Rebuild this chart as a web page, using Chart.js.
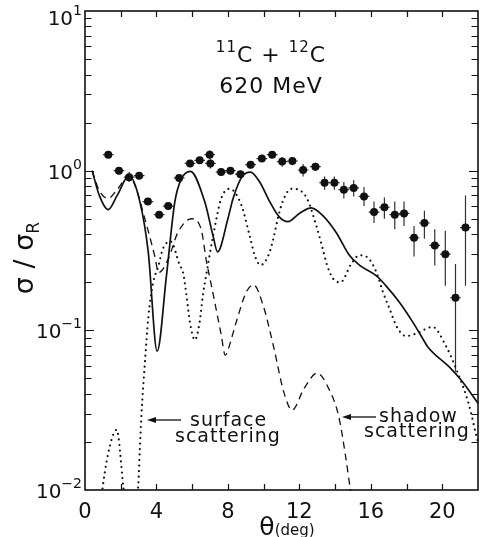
<!DOCTYPE html>
<html><head><meta charset="utf-8">
<script src="https://cdn.jsdelivr.net/npm/chart.js@4.4.0/dist/chart.umd.min.js"></script>
<style>html,body{margin:0;padding:0;background:#fff}#wrap{width:482px;height:537px;position:relative}</style>
</head><body><div id="wrap"><canvas id="c" width="482" height="537"></canvas></div>
<script>
// ---- data ----
const xTickLabels = [0, 4, 8, 12, 16, 20];
const yTickExps = [1, 0, -1, -2];

const ptX  = [1.30,1.90,2.47,3.03,3.52,4.15,4.66,5.27,5.88,6.42,6.98,7.02,7.62,8.14,8.70,9.27,9.90,10.48,11.04,11.61,12.21,12.90,13.41,13.96,14.49,15.04,15.62,16.18,16.76,17.34,17.86,18.42,19.00,19.58,20.17,20.74,21.30];
const ptY  = [1.26,1.00,0.91,0.93,0.64,0.53,0.60,0.90,1.11,1.16,1.26,1.11,0.98,1.00,0.95,1.09,1.19,1.26,1.14,1.15,1.01,1.06,0.84,0.84,0.76,0.78,0.69,0.55,0.59,0.53,0.54,0.38,0.47,0.34,0.30,0.16,0.44];
const ptHi = [1.32,1.05,0.98,0.97,0.67,0.555,0.63,0.94,1.16,1.21,1.34,1.18,1.04,1.05,1.00,1.15,1.24,1.31,1.22,1.22,1.10,1.12,0.92,0.92,0.85,0.87,0.79,0.64,0.68,0.64,0.64,0.45,0.56,0.43,0.42,0.26,0.70];
const ptLo = [1.20,0.95,0.85,0.89,0.61,0.505,0.57,0.86,1.06,1.11,1.19,1.03,0.93,0.95,0.90,1.03,1.14,1.21,1.06,1.08,0.92,1.00,0.76,0.76,0.67,0.69,0.60,0.47,0.50,0.43,0.45,0.29,0.375,0.255,0.19,0.055,0.19];
const xErr = 0.3;

const fullX = [0.4,0.8,1.3,1.8,2.47,3.07,3.54,4.04,4.56,5.03,5.4,5.9,6.7,7.17,7.42,8.0,8.29,8.84,9.26,9.78,10.34,10.9,11.36,12.0,12.66,13.3,14.06,14.8,15.36,16.3,16.85,17.6,18.34,18.9,19.18,20.39,21.04,22.0];
const fullY = [1.0,0.70,0.57,0.70,0.93,0.64,0.31,0.074,0.22,0.64,0.89,0.99,0.64,0.39,0.31,0.50,0.67,0.935,0.98,0.85,0.64,0.51,0.48,0.54,0.585,0.525,0.41,0.295,0.256,0.22,0.19,0.15,0.113,0.089,0.079,0.059,0.049,0.035];

const shadowX = [0.4,0.8,1.3,1.8,2.47,2.9,3.35,3.91,4.12,4.66,5.2,5.96,6.5,6.8,7.0,7.26,7.63,7.85,8.2,8.47,9.03,9.43,10.0,10.58,11.13,11.6,12.25,13.0,13.65,14.2,14.58,14.86,15.2];
const shadowY = [1.0,0.75,0.67,0.76,0.93,0.75,0.50,0.29,0.23,0.28,0.41,0.50,0.43,0.27,0.21,0.151,0.093,0.07,0.089,0.113,0.174,0.193,0.14,0.077,0.041,0.0316,0.043,0.054,0.043,0.029,0.0165,0.01,0.006];

const surfX = [0.7,1.0,1.4,1.77,2.14,2.5,2.98,3.07,3.16,3.35,3.54,3.82,4.1,4.37,4.8,5.3,5.49,5.68,5.87,6.15,6.42,6.6,6.8,7.17,7.63,8.1,8.75,9.22,9.5,9.83,10.34,11.0,11.55,12.38,12.94,13.3,13.55,13.9,14.3,14.9,15.36,15.74,16.3,16.67,17.04,17.5,17.97,18.5,19.46,20.2,20.76,21.5,21.9,22.0];
const surfY = [0.005,0.0106,0.019,0.0238,0.0106,0.004,0.0106,0.018,0.0295,0.062,0.119,0.2,0.25,0.326,0.36,0.256,0.23,0.166,0.113,0.087,0.113,0.166,0.227,0.39,0.67,0.77,0.61,0.39,0.295,0.256,0.31,0.61,0.77,0.685,0.455,0.326,0.256,0.21,0.2,0.26,0.295,0.29,0.233,0.175,0.137,0.103,0.092,0.095,0.105,0.08,0.058,0.034,0.022,0.02];

const zip = (xs, ys) => xs.map((x, i) => ({x, y: ys[i]}));
const INK = '#111';
const FONT = '"DejaVu Sans", sans-serif';

function richText(ctx, parts, x, y, align) {
  let w = 0;
  parts.forEach(p => { ctx.font = p.size + 'px ' + FONT; w += ctx.measureText(p.t).width; });
  let cx = align === 'right' ? x - w : align === 'center' ? x - w / 2 : x;
  ctx.textAlign = 'left';
  parts.forEach(p => {
    ctx.font = p.size + 'px ' + FONT;
    ctx.fillText(p.t, cx, y + (p.dy || 0));
    cx += ctx.measureText(p.t).width;
  });
}

function arrowLeft(ctx, x1, x2, y) {
  ctx.beginPath(); ctx.moveTo(x1, y); ctx.lineTo(x2 + 6, y); ctx.lineWidth = 1.3; ctx.stroke();
  ctx.beginPath(); ctx.moveTo(x2, y); ctx.lineTo(x2 + 9, y - 3); ctx.lineTo(x2 + 9, y + 3); ctx.closePath(); ctx.fill();
}

const overlay = {
  id: 'overlay',
  beforeDatasetsDraw(chart) {
    const ctx = chart.ctx, xs = chart.scales.x, ys = chart.scales.y;
    ctx.save();
    ctx.strokeStyle = '#333'; ctx.lineWidth = 1.2;
    ptX.forEach((x, i) => {
      const px = xs.getPixelForValue(x), py = ys.getPixelForValue(ptY[i]);
      ctx.beginPath();
      ctx.moveTo(xs.getPixelForValue(x - xErr), py); ctx.lineTo(xs.getPixelForValue(x + xErr), py);
      ctx.moveTo(px, ys.getPixelForValue(ptHi[i])); ctx.lineTo(px, ys.getPixelForValue(ptLo[i]));
      ctx.stroke();
    });
    ctx.restore();
  },
  afterDraw(chart) {
    const ctx = chart.ctx, a = chart.chartArea, xs = chart.scales.x, ys = chart.scales.y;
    ctx.save();
    ctx.strokeStyle = INK; ctx.fillStyle = INK;
    // frame
    ctx.lineWidth = 1.6;
    ctx.strokeRect(a.left, a.top, a.right - a.left, a.bottom - a.top);
    // x ticks every 2
    ctx.lineWidth = 1.2;
    ctx.beginPath();
    for (let v = 2; v < 22; v += 2) {
      const px = Math.round(xs.getPixelForValue(v)) + 0.5;
      ctx.moveTo(px, a.bottom); ctx.lineTo(px, a.bottom - 6);
      ctx.moveTo(px, a.top); ctx.lineTo(px, a.top + 6);
    }
    // y ticks
    for (let e = -2; e <= 0; e++) {
      for (let k = 1; k <= 9; k++) {
        const v = k * Math.pow(10, e);
        if (e === -2 && k === 1) continue;
        const py = Math.round(ys.getPixelForValue(v)) + 0.5;
        const len = k === 1 ? 9 : 6.5;
        ctx.moveTo(a.left, py); ctx.lineTo(a.left + len, py);
        ctx.moveTo(a.right, py); ctx.lineTo(a.right - len, py);
      }
    }
    ctx.stroke();
    // x tick labels
    ctx.textBaseline = 'alphabetic';
    ctx.font = '21px ' + FONT; ctx.textAlign = 'center';
    xTickLabels.forEach(v => ctx.fillText(String(v), xs.getPixelForValue(v), 518));
    // y tick labels
    yTickExps.forEach(e => {
      const py = ys.getPixelForValue(Math.pow(10, e));
      const base = e === 1 ? py + 14 : py + 8;
      richText(ctx, [{t: '10', size: 20}, {t: e < 0 ? '\u2212' + (-e) : String(e), size: 14, dy: -10}], 82, base, 'right');
    });
    // x axis title
    richText(ctx, [{t: '\u03B8', size: 25}, {t: '(deg)', size: 15, dy: 0}], 287, 535, 'center');
    // y axis title (rotated)
    ctx.save();
    ctx.translate(33, 258); ctx.rotate(-Math.PI / 2);
    richText(ctx, [{t: '\u03C3 / \u03C3', size: 27}, {t: 'R', size: 17, dy: 6}], 0, 0, 'center');
    ctx.restore();
    // title
    ctx.letterSpacing = '1px';
    richText(ctx, [{t: '11', size: 15, dy: -10}, {t: 'C', size: 22}, {t: ' + ', size: 22}, {t: '12', size: 15, dy: -10}, {t: 'C', size: 22}], 271, 62, 'center');
    richText(ctx, [{t: '620 MeV', size: 22}], 271, 93, 'center');
    // annotations
    ctx.font = '19px ' + FONT; ctx.textAlign = 'left';
    ctx.fillText('surface', 190, 426);
    ctx.fillText('scattering', 175, 442);
    ctx.fillText('shadow', 379, 422);
    ctx.fillText('scattering', 364, 437);
    ctx.letterSpacing = '0px';
    arrowLeft(ctx, 181, 147, 420);
    arrowLeft(ctx, 376, 342, 417);
    ctx.restore();
  }
};

new Chart(document.getElementById('c'), {
  type: 'scatter',
  data: {
    datasets: [
      { label: 'data', data: zip(ptX, ptY), showLine: false, pointRadius: 4, pointBackgroundColor: INK, pointBorderColor: INK, pointBorderWidth: 0, order: 0 },
      { label: 'full', data: zip(fullX, fullY), showLine: true, pointRadius: 0, borderColor: INK, borderWidth: 1.7, cubicInterpolationMode: 'monotone', clip: 1, order: 1 },
      { label: 'shadow', data: zip(shadowX, shadowY), showLine: true, pointRadius: 0, borderColor: INK, borderWidth: 1.3, borderDash: [7, 5], cubicInterpolationMode: 'monotone', clip: 1, order: 2 },
      { label: 'surface', data: zip(surfX, surfY), showLine: true, pointRadius: 0, borderColor: INK, borderWidth: 2.2, borderDash: [0, 5.5], borderCapStyle: 'round', cubicInterpolationMode: 'monotone', clip: 1, order: 3 }
    ]
  },
  options: {
    responsive: false, animation: false, devicePixelRatio: 1,
    layout: { padding: { left: 85, right: 4, top: 11, bottom: 47 } },
    plugins: { legend: { display: false }, tooltip: { enabled: false } },
    scales: {
      x: { type: 'linear', min: 0, max: 22, display: false },
      y: { type: 'logarithmic', min: 0.01, max: 10, display: false }
    }
  },
  plugins: [overlay]
});
</script>
</body></html>
